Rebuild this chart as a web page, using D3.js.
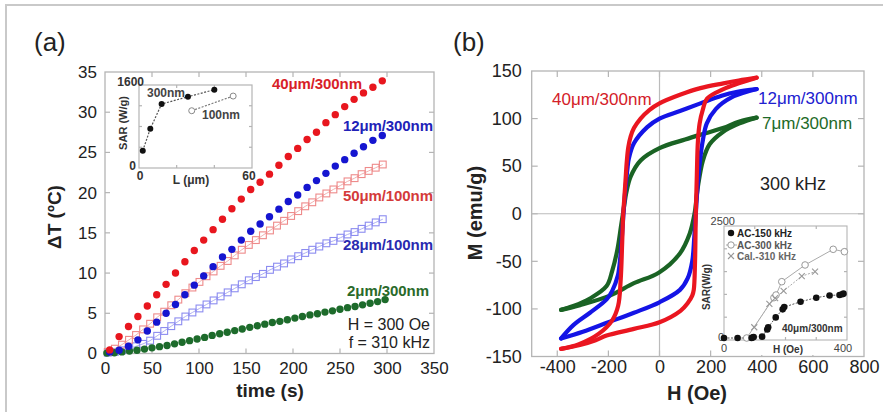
<!DOCTYPE html>
<html><head><meta charset="utf-8">
<script src="https://cdn.jsdelivr.net/npm/d3@7"></script>
<style>
body{margin:0;background:#fff;}
svg{display:block;font-family:"Liberation Sans",Arial,Helvetica,sans-serif;}
</style></head><body>
<svg id="c" width="883" height="412"></svg>
<script>
// ---------- Panel (a) data ----------
const aXTicks = [0,50,100,150,200,250,300,350];
const aYTicks = [0,5,10,15,20,25,30,35];
const tDots = [5,15,25,35,45,55,65,75,85,95,105,115,125,135,145,155,165,175,185,195,205,215,225,235,245,255,265,275,285,295];
const red40 = [0.45,2.1,3.35,4.6,5.9,7.3,8.6,10.0,11.4,12.8,14.1,15.4,16.7,18.0,19.2,20.4,21.3,22.3,23.4,24.5,25.5,26.6,27.5,28.7,29.7,30.7,31.6,32.4,33.1,33.9];
const blue12 = [0.2,0.4,0.9,1.7,2.8,3.9,5.0,6.1,7.3,8.5,9.65,10.8,12.0,12.95,14.1,15.2,16.1,17.0,17.95,18.9,19.7,20.65,21.5,22.4,23.3,24.1,24.9,25.7,26.5,27.1];
const tGreen = [2,10,18,26,34,42,50,58,66,74,82,90,98,106,114,122,130,138,146,154,162,170,178,186,194,202,210,218,226,234,242,250,258,266,274,282,290,298];
const green2 = [0.05,0.1,0.2,0.3,0.4,0.55,0.7,0.85,1.0,1.2,1.4,1.6,1.8,2.0,2.25,2.45,2.65,2.85,3.05,3.25,3.45,3.65,3.85,4.0,4.2,4.4,4.6,4.8,4.95,5.15,5.3,5.5,5.7,5.85,6.05,6.25,6.45,6.7];
const tSq = [3,10.5,18,25.5,33,40.5,48,55.5,63,70.5,78,85.5,93,100.5,108,115.5,123,130.5,138,145.5,153,160.5,168,175.5,183,190.5,198,205.5,213,220.5,228,235.5,243,250.5,258,265.5,273,280.5,288,295.5];
const pink50 = [0.2,0.6,1.1,1.7,2.3,3.0,3.7,4.5,5.2,6.0,6.7,7.5,8.2,8.9,9.6,10.2,10.9,11.5,12.2,12.9,13.5,14.1,14.7,15.3,15.9,16.5,17.1,17.7,18.3,18.8,19.4,19.9,20.4,20.9,21.4,21.8,22.3,22.7,23.1,23.5];
const lblue28 = [0.1,0.2,0.4,0.6,0.9,1.2,1.6,2.2,2.8,3.4,4.0,4.6,5.1,5.6,6.1,6.6,7.1,7.6,8.1,8.6,9.1,9.5,9.9,10.4,10.8,11.2,11.7,12.1,12.5,12.9,13.3,13.7,14.0,14.4,14.8,15.1,15.5,15.9,16.3,16.7];
// inset (a)
const insLTicks = [0,60];
const insSARTicks = [0,1600];
const L300 = [2,6,12,26,40];
const SAR300 = [333,757,1233,1374,1509];
const L100 = [28,50];
const SAR100 = [1104,1387];

// ---------- Panel (b) data ----------
const bXTicks = [-400,-200,0,200,400,600,800];
const bYTicks = [-150,-100,-50,0,50,100,150];
const redUpH = [380,310,250,160,80,0,-40,-74,-100,-113,-122,-128,-133,-138,-142,-146,-152,-162,-185,-237,-315,-385];
const redUpM = [143,140,137,132,125,116,109,100,90,81,70,55,35,15,0,-30,-70,-97,-112,-126,-137,-142];
const redLoH = [-385,-311,-250,-207,-100,0,82,110,128,134,139,142,146,150,157,170,186,250,310,380];
const redLoM = [-142,-138,-133,-128,-121,-114,-102,-94,-86,-80,-50,0,40,75,95,110,121,131,137,143];
const blueUpH = [380,300,243,160,80,0,-48,-100,-120,-126,-132,-137,-141,-146,-153,-163,-185,-207,-272,-337,-385];
const blueUpM = [131,128,124,116,108,100,91,74,58,46,30,15,0,-20,-45,-65,-81,-90,-104,-117,-131];
const blueLoH = [-385,-300,-200,-100,0,80,110,128,136,142,148,158,170,185,220,280,380];
const blueLoM = [-131,-124,-114,-104,-93,-80,-68,-50,-25,0,25,55,78,95,110,122,131];
const greenUpH = [380,313,248,160,100,0,-74,-113,-130,-139,-150,-165,-185,-207,-272,-337,-385];
const greenUpM = [101,97,90,83,78,69,56,39,22,7,-12,-38,-60,-76,-89,-97,-101];
const greenLoH = [-385,-311,-194,-100,-3,79,118,137,150,170,196,248,313,380];
const greenLoM = [-101,-96,-86,-73,-62,-42,-21,0,28,56,73,86,95,101];
// inset (b)
const insHTicks = [0,400];
const insBSARTicks = [0,500,1000,1500,2000,2500];
const ac150H = [0,45,91,94,98,126,143,146,171,194,199,253,305,349,382,391,395];
const ac150S = [0,0,0,10,20,30,190,240,460,640,690,810,900,950,960,975,990];
const ac300H = [75,165,172,191,268,361,398];
const ac300S = [0,900,960,1257,1630,1980,1926];
const cal310H = [100,150,169,197,257,301];
const cal310S = [240,760,890,1050,1380,1480];

const svg = d3.select("#c");
const FR = "#b4b4b4";
const fmt = d => String(d);

// outer border
svg.append("rect").attr("x",6).attr("y",5).attr("width",890).attr("height",420)
  .attr("fill","none").attr("stroke","#c9c9c9").attr("stroke-width",2);

function frameAxes(g, x, y, xt, yt, tl, opts){
  const [x0,x1] = x.range(), [y0,y1] = y.range();
  g.append("rect").attr("x",x0).attr("y",y1).attr("width",x1-x0).attr("height",y0-y1)
    .attr("fill",opts.fill||"none").attr("stroke",FR).attr("stroke-width",opts.sw||1.3);
  const ti = xt.filter(v=>x(v)>x0+1 && x(v)<x1-1);
  const yi = yt.filter(v=>y(v)<y0-1 && y(v)>y1+1);
  ti.forEach(v=>{
    g.append("line").attr("x1",x(v)).attr("x2",x(v)).attr("y1",y0).attr("y2",y0-tl).attr("stroke",FR).attr("stroke-width",1.2);
    g.append("line").attr("x1",x(v)).attr("x2",x(v)).attr("y1",y1).attr("y2",y1+tl).attr("stroke",FR).attr("stroke-width",1.2);
  });
  yi.forEach(v=>{
    g.append("line").attr("y1",y(v)).attr("y2",y(v)).attr("x1",x0).attr("x2",x0+tl).attr("stroke",FR).attr("stroke-width",1.2);
    g.append("line").attr("y1",y(v)).attr("y2",y(v)).attr("x1",x1).attr("x2",x1-tl).attr("stroke",FR).attr("stroke-width",1.2);
  });
}

// ================= Panel (a) =================
const ga = svg.append("g");
const xa = d3.scaleLinear().domain([0,350]).range([105,434]);
const ya = d3.scaleLinear().domain([0,35]).range([353.5,72]);
frameAxes(ga, xa, ya, aXTicks, aYTicks, 5, {});

const axA = ga.append("g").attr("transform",`translate(0,${ya(0)})`)
  .call(d3.axisBottom(xa).tickValues(aXTicks).tickFormat(fmt).tickSize(0).tickPadding(8));
axA.select(".domain").remove();
axA.selectAll("text").attr("font-size",17).attr("fill","#222").attr("font-family","Liberation Sans");
const ayA = ga.append("g").attr("transform",`translate(${xa(0)},0)`)
  .call(d3.axisLeft(ya).tickValues(aYTicks).tickFormat(fmt).tickSize(0).tickPadding(8));
ayA.select(".domain").remove();
ayA.selectAll("text").attr("font-size",17).attr("fill","#222").attr("font-family","Liberation Sans");

ga.append("text").attr("x",270).attr("y",397).attr("text-anchor","middle")
  .attr("font-size",19).attr("font-weight","bold").attr("fill","#222").text("time (s)");
ga.append("text").attr("transform","translate(61,217) rotate(-90)").attr("text-anchor","middle")
  .attr("font-size",19).attr("font-weight","bold").attr("fill","#222").text("ΔT (ºC)");
svg.append("text").attr("x",34).attr("y",51).attr("font-size",26).attr("fill","#222").text("(a)");

// squares series
function squares(ts, vs, col, lineCol){
  ga.append("path").datum(ts.map((t,i)=>[t,vs[i]]))
    .attr("d", d3.line().x(d=>xa(d[0])).y(d=>ya(d[1])))
    .attr("fill","none").attr("stroke",lineCol).attr("stroke-width",1);
  ga.append("g").selectAll("rect").data(ts.map((t,i)=>[t,vs[i]])).join("rect")
    .attr("x",d=>xa(d[0])-3.4).attr("y",d=>ya(d[1])-3.4).attr("width",6.8).attr("height",6.8)
    .attr("fill","none").attr("stroke",col).attr("stroke-width",1.1);
}
squares(tSq, lblue28, "#8c8cf0", "#b0b0f4");
squares(tSq, pink50, "#ee8a8a", "#f2b0b0");
function dots(ts, vs, col){
  ga.append("g").selectAll("circle").data(ts.map((t,i)=>[t,vs[i]])).join("circle")
    .attr("cx",d=>xa(d[0])).attr("cy",d=>ya(d[1])).attr("r",3.7).attr("fill",col);
}
dots(tGreen, green2, "#1d6b2b");
dots(tDots, blue12, "#1515d0");
dots(tDots, red40, "#e8161e");

const annA = [
  ["40μm/300nm",272,89,"#d81e28"],["12μm/300nm",343,131,"#2222b8"],["50μm/100nm",343,201,"#d43a3a"],
  ["28μm/100nm",343,250,"#2a2ab0"],["2μm/300nm",347,296,"#2a6a2a"]];
annA.forEach(a=>ga.append("text").attr("x",a[1]).attr("y",a[2]).attr("font-size",15).attr("font-weight","bold")
  .attr("fill",a[3]).attr("textLength",a[0].length===10?90:82).text(a[0]));
ga.append("text").attr("x",430).attr("y",330).attr("text-anchor","end").attr("font-size",16).attr("fill","#222").text("H = 300 Oe");
ga.append("text").attr("x",430).attr("y",348).attr("text-anchor","end").attr("font-size",16).attr("fill","#222").text("f = 310 kHz");

// inset (a)
const xi = d3.scaleLinear().domain([0,60]).range([139,252]);
const yi = d3.scaleLinear().domain([0,1600]).range([168,85]);
frameAxes(ga, xi, yi, [20,40], [400,800,1200], 3, {fill:"#fff",sw:1.2});
ga.append("text").attr("x",xi(0)+5).attr("y",yi(1600)+1).attr("text-anchor","end").attr("font-size",12).attr("font-weight","bold").attr("fill","#333").text(insSARTicks[1]);
ga.append("text").attr("x",xi(0)-3).attr("y",yi(0)+2).attr("text-anchor","end").attr("font-size",12).attr("font-weight","bold").attr("fill","#333").text(insSARTicks[0]);
insLTicks.forEach(v=>ga.append("text").attr("x",xi(v)+(v===0?1:-3)).attr("y",yi(0)+12).attr("text-anchor","middle").attr("font-size",12).attr("font-weight","bold").attr("fill","#333").text(v));
ga.append("text").attr("x",191).attr("y",184).attr("text-anchor","middle").attr("font-size",12).attr("font-weight","bold").attr("fill","#333").text("L (μm)");
ga.append("text").attr("transform","translate(127,123) rotate(-90)").attr("text-anchor","middle").attr("font-size",11).attr("font-weight","bold").attr("fill","#333").text("SAR (W/g)");
const lineI = d3.line().x(d=>xi(d[0])).y(d=>yi(d[1]));
ga.append("path").datum(L300.map((l,i)=>[l,SAR300[i]])).attr("d",lineI).attr("fill","none").attr("stroke","#555").attr("stroke-width",1.2).attr("stroke-dasharray","2,1.5");
ga.append("path").datum(L100.map((l,i)=>[l,SAR100[i]])).attr("d",lineI).attr("fill","none").attr("stroke","#777").attr("stroke-width",1.1).attr("stroke-dasharray","2,1.5");
ga.append("g").selectAll("circle").data(L300.map((l,i)=>[l,SAR300[i]])).join("circle")
  .attr("cx",d=>xi(d[0])).attr("cy",d=>yi(d[1])).attr("r",3).attr("fill","#111");
ga.append("g").selectAll("circle").data(L100.map((l,i)=>[l,SAR100[i]])).join("circle")
  .attr("cx",d=>xi(d[0])).attr("cy",d=>yi(d[1])).attr("r",3).attr("fill","#fff").attr("stroke","#888").attr("stroke-width",1);
ga.append("text").attr("x",147).attr("y",97).attr("font-size",12).attr("font-weight","bold").attr("fill","#444").text("300nm");
ga.append("text").attr("x",202).attr("y",119).attr("font-size",12).attr("font-weight","bold").attr("fill","#444").text("100nm");

// ================= Panel (b) =================
const gb = svg.append("g");
const xb = d3.scaleLinear().domain([-500,800]).range([531.7,864]);
const yb = d3.scaleLinear().domain([-150,150]).range([356.5,71]);
frameAxes(gb, xb, yb, bXTicks, bYTicks, 6, {});
gb.append("line").attr("x1",xb(0)).attr("x2",xb(0)).attr("y1",yb(-150)).attr("y2",yb(150)).attr("stroke","#bbb").attr("stroke-width",1.2);
gb.append("line").attr("x1",xb(-500)).attr("x2",xb(800)).attr("y1",yb(0)).attr("y2",yb(0)).attr("stroke","#bbb").attr("stroke-width",1.2);

const axB = gb.append("g").attr("transform",`translate(0,${yb(-150)})`)
  .call(d3.axisBottom(xb).tickValues(bXTicks).tickFormat(fmt).tickSize(0).tickPadding(4));
axB.select(".domain").remove();
axB.selectAll("text").attr("font-size",18).attr("fill","#222").attr("font-family","Liberation Sans");
const ayB = gb.append("g").attr("transform",`translate(${xb(-500)},0)`)
  .call(d3.axisLeft(yb).tickValues(bYTicks).tickFormat(fmt).tickSize(0).tickPadding(10));
ayB.select(".domain").remove();
ayB.selectAll("text").attr("font-size",18).attr("fill","#222").attr("font-family","Liberation Sans");
gb.append("text").attr("x",697).attr("y",400).attr("text-anchor","middle").attr("font-size",20).attr("font-weight","bold").attr("fill","#222").text("H (Oe)");
gb.append("text").attr("transform","translate(482,213) rotate(-90)").attr("text-anchor","middle").attr("font-size",20).attr("font-weight","bold").attr("fill","#222").text("M (emu/g)");
svg.append("text").attr("x",453).attr("y",51).attr("font-size",26).attr("fill","#222").text("(b)");

const loopLine = d3.line().x(d=>xb(d[0])).y(d=>yb(d[1])).curve(d3.curveCatmullRom.alpha(0.5));
function loop(uh, um, lh, lm, col){
  [[uh,um],[lh,lm]].forEach(([h,m])=>{
    gb.append("path").datum(h.map((v,i)=>[v,m[i]])).attr("d",loopLine)
      .attr("fill","none").attr("stroke",col).attr("stroke-width",4.2).attr("stroke-linecap","round").attr("stroke-linejoin","round");
  });
}
loop(greenUpH, greenUpM, greenLoH, greenLoM, "#1a6324");
loop(blueUpH, blueUpM, blueLoH, blueLoM, "#1414e6");
loop(redUpH, redUpM, redLoH, redLoM, "#ea1620");

gb.append("text").attr("x",552).attr("y",105).attr("font-size",17).attr("fill","#d42028").text("40μm/300nm");
gb.append("text").attr("x",758).attr("y",104).attr("font-size",17).attr("fill","#2020d0").text("12μm/300nm");
gb.append("text").attr("x",762).attr("y",129).attr("font-size",17).attr("fill","#1e6a28").text("7μm/300nm");
gb.append("text").attr("x",760).attr("y",190).attr("font-size",18).attr("fill","#222").text("300 kHz");

// inset (b)
const xib = d3.scaleLinear().domain([0,400]).range([724,845]);
const yib = d3.scaleLinear().domain([0,2500]).range([338,226]);
gb.append("rect").attr("x",720).attr("y",223).attr("width",132).attr("height",132).attr("fill","#fff");
const xibFrame = d3.scaleLinear().domain([0,400]).range([724,847]);
const yibFrame = d3.scaleLinear().domain([0,2500]).range([340,226]);
frameAxes(gb, xibFrame, yibFrame, [100,200,300], [500,1000,1500,2000], 3, {fill:"#fff",sw:1.1});
gb.append("text").attr("x",735).attr("y",225).attr("text-anchor","end").attr("font-size",11).attr("fill","#444").text(insBSARTicks[5]);
gb.append("text").attr("x",724).attr("y",341).attr("text-anchor","end").attr("font-size",11).attr("fill","#444").text(insBSARTicks[0]);
insHTicks.forEach(v=>gb.append("text").attr("x",xib(v)+(v===0?0:-2)).attr("y",352).attr("text-anchor","middle").attr("font-size",11).attr("fill","#444").text(v));
gb.append("text").attr("x",788).attr("y",353).attr("text-anchor","middle").attr("font-size",10).attr("font-weight","bold").attr("fill","#333").text("H (Oe)");
gb.append("text").attr("transform","translate(710,287) rotate(-90)").attr("text-anchor","middle").attr("font-size",10).attr("font-weight","bold").attr("fill","#333").text("SAR(W/g)");
const lineIB = d3.line().x(d=>xib(d[0])).y(d=>yib(d[1]));
gb.append("path").datum(ac300H.map((h,i)=>[h,ac300S[i]])).attr("d",lineIB).attr("fill","none").attr("stroke","#aaa").attr("stroke-width",1);
gb.append("path").datum(cal310H.map((h,i)=>[h,cal310S[i]])).attr("d",lineIB).attr("fill","none").attr("stroke","#aaa").attr("stroke-width",1).attr("stroke-dasharray","2,1.5");
gb.append("path").datum(ac150H.map((h,i)=>[h,ac150S[i]])).attr("d",lineIB).attr("fill","none").attr("stroke","#555").attr("stroke-width",1).attr("stroke-dasharray","2,1.5");
gb.append("g").selectAll("circle").data(ac300H.map((h,i)=>[h,ac300S[i]])).join("circle")
  .attr("cx",d=>xib(d[0])).attr("cy",d=>yib(d[1])).attr("r",3.3).attr("fill","#fff").attr("stroke","#999").attr("stroke-width",1);
const cross = (g,x,y,s,col)=>{g.append("path").attr("d",`M${x-s},${y-s}L${x+s},${y+s}M${x-s},${y+s}L${x+s},${y-s}`).attr("stroke",col).attr("stroke-width",1.1);};
cal310H.forEach((h,i)=>cross(gb,xib(h),yib(cal310S[i]),3,"#999"));
gb.append("g").selectAll("circle").data(ac150H.map((h,i)=>[h,ac150S[i]])).join("circle")
  .attr("cx",d=>xib(d[0])).attr("cy",d=>yib(d[1])).attr("r",3.3).attr("fill","#111");
// legend
gb.append("circle").attr("cx",731).attr("cy",233).attr("r",3.2).attr("fill","#111");
gb.append("text").attr("x",737).attr("y",237).attr("font-size",10).attr("font-weight","bold").attr("fill","#222").text("AC-150 kHz");
gb.append("line").attr("x1",726).attr("x2",737).attr("y1",245).attr("y2",245).attr("stroke","#aaa");
gb.append("circle").attr("cx",731).attr("cy",245).attr("r",3.2).attr("fill","#fff").attr("stroke","#999");
gb.append("text").attr("x",737).attr("y",249).attr("font-size",10).attr("font-weight","bold").attr("fill","#555").text("AC-300 kHz");
cross(gb,731,256,3,"#999");
gb.append("text").attr("x",737).attr("y",260).attr("font-size",10).attr("font-weight","bold").attr("fill","#666").text("Cal.-310 kHz");
gb.append("text").attr("x",782).attr("y",332).attr("font-size",10).attr("font-weight","bold").attr("fill","#333").text("40μm/300nm");
</script>
</body></html>
